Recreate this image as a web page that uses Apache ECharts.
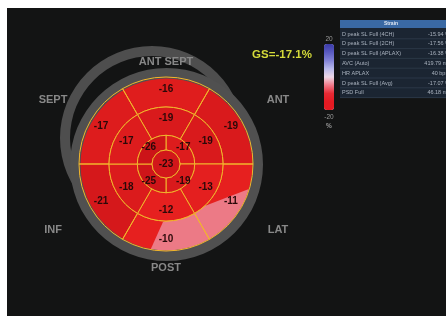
<!DOCTYPE html>
<html>
<head>
<meta charset="utf-8">
<script src="https://cdn.jsdelivr.net/npm/echarts@6/dist/echarts.min.js"></script>
<style>
html, body { margin: 0; padding: 0; background: #fff; }
#chart { width: 446px; height: 316px; }
</style>
</head>
<body>
<div id="chart"></div>
<script>
// 17 segment bull's eye, peak systolic longitudinal strain (%)
// rings go clockwise, basal and mid start at the ANT SEPT (top) segment
var basalStrain = [-16, -19, -11, -10, -21, -17];
var midStrain = [-19, -19, -13, -12, -18, -17];
var apicalStrain = [-17, -19, -25, -26];   // from 12 o'clock, clockwise
var apexStrain = [-23];
var globalStrain = -17.1;

// low strain (pink) patch of the basal ring, [radius, angle deg] in the polar system
var pinkZone = [[58, 267], [86, 343], [92, 341], [92, 322], [92, 302], [92, 282], [92, 259]];

var wallNames = ['ANT SEPT', 'ANT', 'LAT', 'POST', 'INF', 'SEPT'];
var scaleLabels = ['20', '-20', '%'];

var tableLabels = ['D peak SL Full (4CH)', 'D peak SL Full (2CH)', 'D peak SL Full (APLAX)',
    'AVC (Auto)', 'HR APLAX', 'D peak SL Full (Avg)', 'PSD Full'];
var tableValues = ['-15.94 %', '-17.56 %', '-16.38 %', '419.79 ms', '40 bpm', '-17.07 %', '46.18 ms'];

var myChart = echarts.init(document.getElementById('chart'));

function segColor(v) {
    var t = Math.max(0, Math.min(1, (-v - 12) / 14));
    var a = [230, 32, 31], b = [204, 20, 24];
    var c = a.map(function(x, i) { return Math.round(x + (b[i] - x) * t); });
    return 'rgb(' + c.join(',') + ')';
}

function ring(values) {
    return values.map(function(v) {
        return { value: 1, strain: v, itemStyle: { color: segColor(v) } };
    });
}

var bullCenter = [166, 164];
var lineColor = '#f2b62c';
var numLabel = {
    show: true,
    position: 'inside',
    formatter: function(p) { return p.data.strain; },
    color: '#2a0909',
    fontSize: 10,
    fontWeight: 'bold',
    fontFamily: 'Liberation Sans'
};

function pieBase(extra) {
    var s = {
        type: 'pie',
        silent: true,
        center: bullCenter,
        clockwise: true,
        avoidLabelOverlap: false,
        labelLine: { show: false },
        label: { show: false },
        emphasis: { disabled: true }
    };
    for (var k in extra) s[k] = extra[k];
    return s;
}

var graphics = [
    { type: 'rect', z: -10, shape: { x: 7, y: 8, width: 439, height: 308 }, style: { fill: '#131414' } }
];

// wall names round the plot
var wallPos = [[166, 62], [278, 100], [278, 230], [166, 268], [53, 230], [53, 100]];
wallNames.forEach(function(name, i) {
    graphics.push({
        type: 'text', z: 50, x: wallPos[i][0], y: wallPos[i][1],
        style: { text: name, fill: '#888888', font: 'bold 11px "Liberation Sans"', textAlign: 'center', textVerticalAlign: 'middle' }
    });
});

graphics.push({
    type: 'text', z: 50, x: 282, y: 55,
    style: { text: 'GS=' + globalStrain + '%', fill: '#d4da3a', font: 'bold 11.5px "Liberation Sans"', textAlign: 'center', textVerticalAlign: 'middle' }
});

// colour scale labels
[39, 117, 126].forEach(function(y, i) {
    graphics.push({
        type: 'text', z: 50, x: 329, y: y,
        style: { text: scaleLabels[i], fill: '#9a9a9a', font: (i == 2 ? 'bold ' : '') + '6.5px "Liberation Sans"', textAlign: 'center', textVerticalAlign: 'middle' }
    });
});

// results table
graphics.push({ type: 'rect', z: 40, shape: { x: 340, y: 20, width: 106, height: 78 }, style: { fill: '#1b2532' } });
graphics.push({ type: 'rect', z: 41, shape: { x: 340, y: 20, width: 106, height: 8 }, style: { fill: '#3a69a4' } });
graphics.push({
    type: 'text', z: 42, x: 391, y: 24,
    style: { text: 'Strain', fill: '#dde6f2', font: 'bold 5px "Liberation Sans"', textAlign: 'center', textVerticalAlign: 'middle' }
});
tableLabels.forEach(function(lab, i) {
    var y = 34 + i * 9.8;
    graphics.push({ type: 'line', z: 41, shape: { x1: 340, y1: y + 4.8, x2: 446, y2: y + 4.8 }, style: { stroke: '#2b3746', lineWidth: 1 } });
    graphics.push({
        type: 'text', z: 42, x: 342, y: y,
        style: { text: lab, fill: '#aab3bf', font: '5.5px "Liberation Sans"', textAlign: 'left', textVerticalAlign: 'middle' }
    });
    graphics.push({
        type: 'text', z: 42, x: 450, y: y,
        style: { text: tableValues[i], fill: '#aab3bf', font: '5.5px "Liberation Sans"', textAlign: 'right', textVerticalAlign: 'middle' }
    });
});

var option = {
    animation: false,
    backgroundColor: '#ffffff',
    polar: { center: bullCenter, radius: 96 },
    radiusAxis: { type: 'value', min: 0, max: 96, show: false },
    angleAxis: { type: 'value', min: 0, max: 360, startAngle: 0, clockwise: false, show: false },
    visualMap: {
        type: 'continuous',
        seriesIndex: [],
        min: -20,
        max: 20,
        calculable: false,
        orient: 'vertical',
        left: 324,
        top: 44,
        padding: 0,
        itemWidth: 10,
        itemHeight: 66,
        inRange: {
            color: ['#e41a22', '#e41a22', '#e62a34', '#f07888', '#eed8e6', '#b8b8ea', '#8282d6', '#5a5ac0', '#3a3aa8']
        }
    },
    graphic: graphics,
    series: [
        // tilted rim behind
        pieBase({ z: 1, center: [152, 138], radius: [82, 92], data: [{ value: 1, itemStyle: { color: '#4e4e4e' } }] }),
        // basal fill
        pieBase({ z: 3, radius: [57, 87], startAngle: 120, data: ring(basalStrain) }),
        {
            type: 'custom',
            coordinateSystem: 'polar',
            silent: true,
            z: 4,
            data: pinkZone,
            renderItem: function(params, api) {
                if (params.dataIndex !== 0) return;
                return {
                    type: 'polygon',
                    shape: { points: pinkZone.map(function(p) { return api.coord(p); }) },
                    style: { fill: '#ec7a86' }
                };
            }
        },
        // rim round the plot, drawn over the patch edge
        pieBase({ z: 4.5, center: [166.5, 164.5], radius: [86, 96.5], data: [{ value: 1, itemStyle: { color: '#505050' } }] }),
        // basal borders and numbers
        pieBase({
            z: 5, radius: [57, 87], startAngle: 120, label: numLabel,
            itemStyle: { color: 'rgba(0,0,0,0)', borderColor: lineColor, borderWidth: 1 },
            data: basalStrain.map(function(v) { return { value: 1, strain: v }; })
        }),
        pieBase({
            z: 6, radius: [28.7, 57], startAngle: 120, label: numLabel,
            itemStyle: { borderColor: lineColor, borderWidth: 1 },
            data: ring(midStrain)
        }),
        pieBase({
            z: 7, radius: [14, 28.7], startAngle: 90, label: numLabel,
            itemStyle: { borderColor: lineColor, borderWidth: 1 },
            data: ring(apicalStrain)
        }),
        pieBase({
            z: 8, radius: [0, 14], startAngle: 90,
            label: Object.assign({}, numLabel, { position: 'center' }),
            itemStyle: { borderColor: lineColor, borderWidth: 1 },
            data: ring(apexStrain)
        })
    ]
};

myChart.setOption(option);
</script>
</body>
</html>
